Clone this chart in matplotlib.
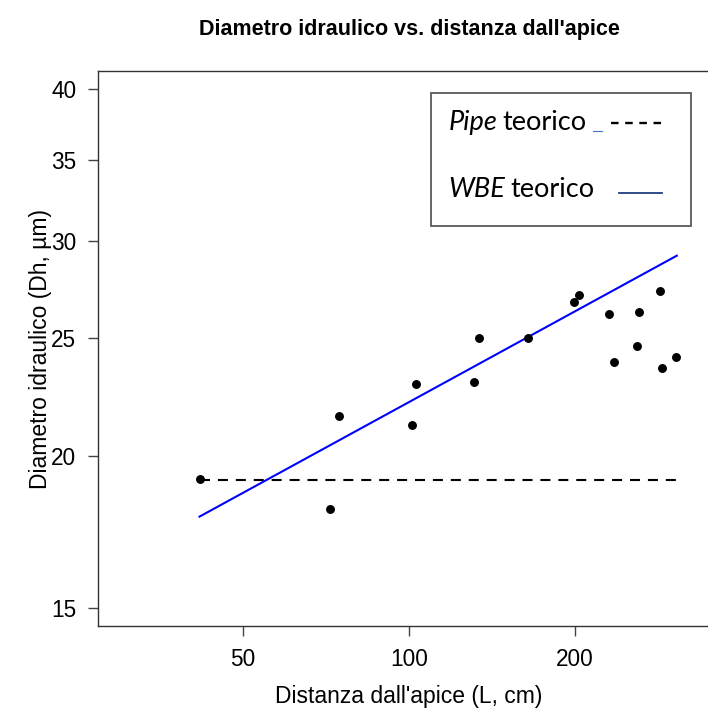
import numpy as np
import matplotlib.pyplot as plt
from matplotlib.patches import Rectangle
from matplotlib.lines import Line2D
from matplotlib.ticker import FixedLocator, FixedFormatter, NullLocator

# data (log-log axes)
dist_cm = [41.7, 71.9, 74.6, 101.3, 103.1, 131.1, 133.8, 164.2, 198.8, 203.4,
           230.7, 235.6, 258.5, 261.5, 285.0, 287.9, 304.3]
dh_um = [19.13, 18.08, 21.56, 21.18, 22.89, 22.99, 24.99, 24.99, 26.74, 27.12,
         26.12, 23.88, 24.60, 26.22, 27.30, 23.62, 24.09]

pipe_x = [41.7, 304.3]
pipe_y = [19.1, 19.1]
wbe_x = [41.7, 305.6]
wbe_y = [17.82, 29.19]

x_ticks = [50, 100, 200]
y_ticks = [15, 20, 25, 30, 35, 40]

W, H = 708, 711


def fx(px):
    return px / W


def fy(py):
    return 1 - py / H


plt.rcParams['font.family'] = ['Liberation Sans', 'DejaVu Sans']

fig = plt.figure(figsize=(W / 100, H / 100), dpi=100)
ax = fig.add_axes([fx(98), fy(626), (720 - 98) / W, (626 - 71.3) / H])

ax.plot(pipe_x, pipe_y, color='black', lw=1.5, dashes=(4.8, 3.8))
ax.plot(wbe_x, wbe_y, color='#0000FF', lw=1.5)
ax.plot(dist_cm, dh_um, 'o', color='black', ms=5.4, mec='black')

ax.set_xscale('log')
ax.set_yscale('log')
ax.set_xlim(27.3, 366)
ax.set_ylim(14.49, 41.37)

ax.xaxis.set_major_locator(FixedLocator(x_ticks))
ax.xaxis.set_major_formatter(FixedFormatter([str(v) for v in x_ticks]))
ax.yaxis.set_major_locator(FixedLocator(y_ticks))
ax.yaxis.set_major_formatter(FixedFormatter([str(v) for v in y_ticks]))
ax.xaxis.set_minor_locator(NullLocator())
ax.yaxis.set_minor_locator(NullLocator())

ax.tick_params(direction='out', length=7.5, width=1, color='#444444',
               labelsize=16.3, pad=8)
for s in ax.spines.values():
    s.set_color('#333333')
    s.set_linewidth(1)

ax.set_xlabel("Distanza dall'apice (L, cm)", fontsize=16.5)
ax.xaxis.label.set_va('center')
ax.xaxis.set_label_coords(0.5, (626 - 697) / (626 - 71.3))
ax.set_ylabel("Diametro idraulico (Dh, µm)", fontsize=16.5)
ax.yaxis.label.set_va('center')
ax.yaxis.set_label_coords((41 - 98) / 622, 0.5)

fig.text(fx(409), fy(29), "Diametro idraulico vs. distanza dall'apice",
         ha='center', va='center', fontsize=15.5, fontweight='bold')

# legend drawn as in the original (box with text and line samples)
fig.patches.append(Rectangle((fx(430.7), fy(226)), (690.7 - 430.7) / W, (226 - 93.3) / H,
                             transform=fig.transFigure, facecolor='white',
                             edgecolor='#595959', lw=1.3, zorder=5))
leg_font = ['Lato', 'DejaVu Sans']
renderer = fig.canvas.get_renderer()
for label, base in [("Pipe", 130), ("WBE", 196.7)]:
    t = fig.text(fx(448.3), fy(base), label, style='italic', fontsize=19.5,
                 family=leg_font, va='baseline', zorder=6)
    x_end = t.get_window_extent(renderer).x1
    fig.text((x_end + 5.5) / W, fy(base), "teorico", fontsize=19.5,
             family=leg_font, va='baseline', zorder=6)
fig.lines.append(Line2D([fx(593), fx(601.7)], [fy(130.7), fy(130.7)],
                        transform=fig.transFigure, color='#4472C4', lw=0.8, zorder=6))
fig.lines.append(Line2D([fx(611), fx(662.3)], [fy(123.3), fy(123.3)],
                        transform=fig.transFigure, color='black', lw=1.7,
                        dashes=(3.2, 2.8), zorder=6))
fig.lines.append(Line2D([fx(619), fx(661.7)], [fy(192.7), fy(192.7)],
                        transform=fig.transFigure, color='#203F80', lw=1.3, zorder=6))

fig.savefig('out.png', dpi=100)
